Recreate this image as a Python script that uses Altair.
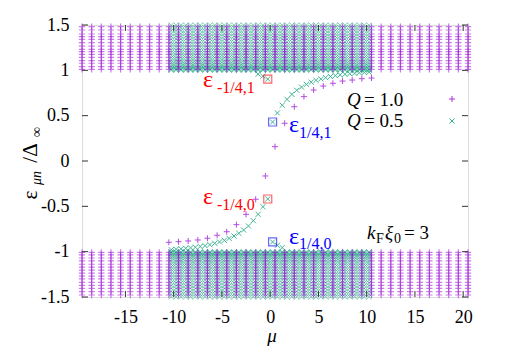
import altair as alt
import pandas as pd

# ---------------- data ----------------
# Q = 1.0 : angular-momentum columns (mu) of the continuum
mu_q1 = [-19.5, -18.5, -17.5, -16.5, -15.5, -14.5, -13.5, -12.5, -11.5, -10.5,
         -9.5, -8.5, -7.5, -6.5, -5.5, -4.5, -3.5, -2.5, -1.5, -0.5,
         0.5, 1.5, 2.5, 3.5, 4.5, 5.5, 6.5, 7.5, 8.5, 9.5,
         10.5, 11.5, 12.5, 13.5, 14.5, 15.5, 16.5, 17.5, 18.5, 19.5, 20.5]
# Q = 1.0 continuum energy levels (same stack in every column)
levels_q1_upper = [1.011, 1.040, 1.078, 1.107, 1.144, 1.177, 1.206, 1.232,
                   1.268, 1.305, 1.342, 1.371, 1.401, 1.445, 1.481]
levels_q1_lower = [-1.008, -1.035, -1.070, -1.102, -1.139, -1.170, -1.203, -1.236,
                   -1.270, -1.300, -1.338, -1.372, -1.405, -1.440, -1.478]
# Q = 1.0 bound (sub-gap) branch
bound_mu_q1 = [-10.5, -9.5, -8.5, -7.5, -6.5, -5.5, -4.5, -3.5, -2.5, -1.5, -0.5,
               0.5, 1.5, 2.5, 3.5, 4.5, 5.5, 6.5, 7.5, 8.5, 9.5, 10.5]
bound_e_q1 = [-0.897, -0.890, -0.882, -0.871, -0.852, -0.819, -0.780, -0.702, -0.588, -0.422, -0.165,
              0.158, 0.416, 0.599, 0.710, 0.783, 0.827, 0.857, 0.882, 0.893, 0.908, 0.915]

# Q = 0.5 : continuum columns
mu_q05 = [-10.25, -9.75, -9.25, -8.75, -8.25, -7.75, -7.25, -6.75, -6.25, -5.75,
          -5.25, -4.75, -4.25, -3.75, -3.25, -2.75, -2.25, -1.75, -1.25, -0.75,
          -0.25, 0.25, 0.75, 1.25, 1.75, 2.25, 2.75, 3.25, 3.75, 4.25,
          4.75, 5.25, 5.75, 6.25, 6.75, 7.25, 7.75, 8.25, 8.75, 9.25,
          9.75, 10.25]
levels_q05_upper = [1.002, 1.009, 1.019, 1.032, 1.048, 1.067, 1.089, 1.113, 1.139, 1.166,
                    1.194, 1.223, 1.253, 1.283, 1.313, 1.344, 1.375, 1.406, 1.437, 1.468,
                    1.498]
levels_q05_lower = [-1.002, -1.009, -1.019, -1.032, -1.048, -1.067, -1.089, -1.113, -1.139, -1.166,
                    -1.194, -1.223, -1.253, -1.283, -1.313, -1.344, -1.375, -1.406, -1.437, -1.468,
                    -1.498]
# Q = 0.5 bound branches
bound_mu_q05 = [-10.25, -9.75, -9.25, -8.75, -8.25, -7.75, -7.25, -6.75, -6.25, -5.75,
                -5.25, -4.75, -4.25, -3.75, -3.25, -2.75, -2.25, -1.75, -1.25, -0.75, -0.25,
                0.25, 0.75, 1.25, 1.75, 2.25, 2.75, 3.25, 3.75, 4.25, 4.75,
                5.25, 5.75, 6.25, 6.75, 7.25, 7.75, 8.25, 8.75, 9.25, 9.75, 10.25,
                0.25, 0.75, 1.25, -0.25, -0.75, -1.25]
bound_e_q05 = [-0.978, -0.974, -0.969, -0.964, -0.958, -0.951, -0.943, -0.934, -0.923, -0.908,
               -0.893, -0.875, -0.853, -0.827, -0.797, -0.761, -0.717, -0.658, -0.588, -0.504, -0.419,
               0.430, 0.530, 0.615, 0.680, 0.735, 0.780, 0.815, 0.845, 0.870, 0.890,
               0.905, 0.920, 0.932, 0.942, 0.950, 0.957, 0.963, 0.968, 0.973, 0.977, 0.980,
               -0.893, -0.930, -0.955, 0.904, 0.935, 0.958]

# highlighted states (squares)
sq_mu = [-0.25, -0.25, 0.25, 0.25]
sq_e = [0.904, -0.419, 0.430, -0.893]
sq_kind = ["red", "red", "blue", "blue"]

x_ticks = [-15, -10, -5, 0, 5, 10, 15, 20]
y_ticks = [-1.5, -1, -0.5, 0, 0.5, 1, 1.5]
x_domain = [-19.5, 20.5]
y_domain = [-1.5, 1.5]

# ---------------- tables ----------------
rows = []
for m in mu_q1:
    for e in levels_q1_upper + levels_q1_lower:
        rows.append({"mu": m, "e": e})
cont_q1 = pd.DataFrame(rows)
rows = []
for m in mu_q05:
    for e in levels_q05_upper + levels_q05_lower:
        rows.append({"mu": m, "e": e})
cont_q05 = pd.DataFrame(rows)
b_q1 = pd.DataFrame({"mu": bound_mu_q1, "e": bound_e_q1})
b_q05 = pd.DataFrame({"mu": bound_mu_q05, "e": bound_e_q05})
sq = pd.DataFrame({"mu": sq_mu, "e": sq_e, "kind": sq_kind})

W, H = 386, 272
PURPLE = "#9400D3"
GREEN = "#009E73"
PLUS = "M-1,0L1,0M0,-1L0,1"
CROSS = "M-1,-1L1,1M-1,1L1,-1"
SERIF = "Liberation Serif"

xs = alt.Scale(domain=x_domain, nice=False, zero=False)
ys = alt.Scale(domain=y_domain, nice=False, zero=False)

xax = alt.Axis(values=x_ticks, tickSize=0, domain=False, grid=False, labelFont=SERIF,
               labelFontSize=18, labelColor="black", labelPadding=11, title=None,
               labelExpr="'' + datum.value")
yax = alt.Axis(values=y_ticks, tickSize=0, domain=False, grid=False, labelFont=SERIF,
               labelFontSize=18, labelColor="black", labelPadding=13, title=None,
               labelExpr="'' + datum.value")

X = alt.X("mu:Q", scale=xs, axis=xax)
Y = alt.Y("e:Q", scale=ys, axis=yax)

base_q05 = alt.Chart(cont_q05).mark_point(shape=CROSS, size=26, filled=False, strokeWidth=0.9,
                                          color=GREEN, opacity=0.55).encode(x=X, y=Y)
base_q1 = alt.Chart(cont_q1).mark_point(shape=PLUS, size=40, filled=False, strokeWidth=1.2,
                                        color=PURPLE, opacity=0.5).encode(
    x=alt.X("mu:Q", scale=xs), y=alt.Y("e:Q", scale=ys))
bq1 = alt.Chart(b_q1).mark_point(shape=PLUS, size=36, filled=False, strokeWidth=1,
                                 color=PURPLE, opacity=0.7).encode(
    x=alt.X("mu:Q", scale=xs), y=alt.Y("e:Q", scale=ys))
bq05 = alt.Chart(b_q05).mark_point(shape=CROSS, size=26, filled=False, strokeWidth=1,
                                   color=GREEN, opacity=0.75).encode(
    x=alt.X("mu:Q", scale=xs), y=alt.Y("e:Q", scale=ys))
sqs = alt.Chart(sq).mark_point(shape="square", size=64, filled=False, strokeWidth=1.2,
                               opacity=0.6).encode(
    x=alt.X("mu:Q", scale=xs), y=alt.Y("e:Q", scale=ys),
    color=alt.Color("kind:N", scale=alt.Scale(domain=["red", "blue"], range=["#ff0000", "#0000ff"]),
                    legend=None))

# inward ticks (gnuplot style)
xt = pd.DataFrame({"mu": x_ticks})
yt = pd.DataFrame({"e": y_ticks})
TL = 6
xtick_b = alt.Chart(xt).mark_rule(color="#333", strokeWidth=1).encode(
    x=alt.X("mu:Q", scale=xs), y=alt.value(H), y2=alt.value(H - TL))
xtick_t = alt.Chart(xt).mark_rule(color="#333", strokeWidth=1).encode(
    x=alt.X("mu:Q", scale=xs), y=alt.value(0), y2=alt.value(TL))
ytick_l = alt.Chart(yt).mark_rule(color="#333", strokeWidth=1).encode(
    y=alt.Y("e:Q", scale=ys), x=alt.value(0), x2=alt.value(TL))
ytick_r = alt.Chart(yt).mark_rule(color="#333", strokeWidth=1).encode(
    y=alt.Y("e:Q", scale=ys), x=alt.value(W), x2=alt.value(W - TL))


# ---------------- annotations (pixel positions in plot frame) ----------------
def txt(items, size, color="black", style="normal", align="left", angle=0, baseline="middle"):
    df = pd.DataFrame(items, columns=["px", "py", "t"])
    return alt.Chart(df).mark_text(font=SERIF, fontSize=size, color=color, fontStyle=style,
                                   align=align, baseline=baseline, angle=angle).encode(
        x=alt.X("px:Q", scale=None), y=alt.Y("py:Q", scale=None), text="t:N")


OX, OY = 82, 25
eps_red = txt([(203 - OX, 80 - OY, "ε"), (203 - OX, 197 - OY, "ε")], 24, "#ff0000")
sub_red = txt([(217 - OX, 88 - OY, "-1/4,1"), (217 - OX, 205 - OY, "-1/4,0")], 16, "#ff0000")
eps_blue = txt([(289 - OX, 125 - OY, "ε"), (289 - OX, 237 - OY, "ε")], 24, "#0000ff")
sub_blue = txt([(299 - OX, 133 - OY, "1/4,1"), (299 - OX, 244 - OY, "1/4,0")], 16, "#0000ff")

leg_q = txt([(347 - OX, 100 - OY, "Q"), (347 - OX, 121 - OY, "Q")], 19, style="italic")
leg_v = txt([(364 - OX, 100 - OY, "= 1.0"), (364 - OX, 121 - OY, "= 0.5")], 19)
leg_sym1 = alt.Chart(pd.DataFrame({"px": [452 - OX], "py": [99 - OY]})).mark_point(
    shape=PLUS, size=36, filled=False, strokeWidth=1, color=PURPLE, opacity=0.8).encode(
    x=alt.X("px:Q", scale=None), y=alt.Y("py:Q", scale=None))
leg_sym2 = alt.Chart(pd.DataFrame({"px": [452 - OX], "py": [121 - OY]})).mark_point(
    shape=CROSS, size=26, filled=False, strokeWidth=1, color=GREEN, opacity=0.8).encode(
    x=alt.X("px:Q", scale=None), y=alt.Y("py:Q", scale=None))

kf_main = txt([(367 - OX, 233 - OY, "k"), (385 - OX, 233 - OY, "ξ")], 19, style="italic")
kf_sub = txt([(376 - OX, 239 - OY, "F"), (394 - OX, 239 - OY, "0")], 14)
kf_eq = txt([(404 - OX, 233 - OY, "= 3")], 19)

xtitle = txt([(272 - OX, 342 - OY, "μ")], 19, style="italic", align="center",
             baseline="alphabetic")
ytitle_main = txt([(31 - OX, 195 - OY, "ε"), (31 - OX, 153 - OY, "/Δ")], 21,
                  align="center", angle=270)
ytitle_sub = txt([(37 - OX, 178 - OY, "μn"), (37 - OX, 132 - OY, "∞")], 14, style="italic",
                 align="center", angle=270)

chart = alt.layer(
    base_q05, base_q1, bq1, bq05, sqs,
    xtick_b, xtick_t, ytick_l, ytick_r,
    eps_red, sub_red, eps_blue, sub_blue,
    leg_q, leg_v, leg_sym1, leg_sym2, kf_main, kf_sub, kf_eq,
    xtitle, ytitle_main, ytitle_sub,
).properties(
    width=W, height=H,
    autosize=alt.AutoSizeParams(type="none"),
    padding={"left": 74, "top": 17, "right": 30, "bottom": 49},
).configure_view(stroke="#222", strokeWidth=1.2).configure(background="white")

chart.save("out.html", embed_options={"renderer": "svg", "actions": False})
